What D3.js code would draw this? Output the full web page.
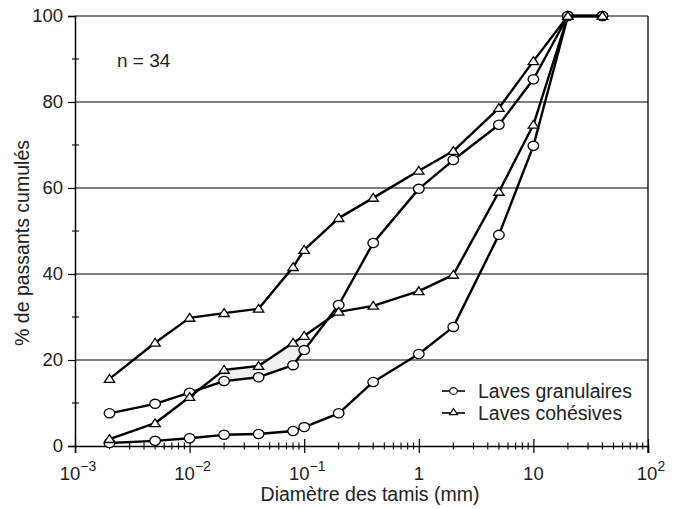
<!DOCTYPE html>
<html>
<head>
<meta charset="utf-8">
<script src="https://cdn.jsdelivr.net/npm/d3@7"></script>
<style>
  body { margin: 0; background: #fff; }
  svg { display: block; }
  text { font-family: "Liberation Sans", Arial, sans-serif; fill: #222; }
</style>
</head>
<body>
<div id="chart"></div>
<script>
// Sieve sizes (mm) and cumulative passing (%)
const sizes = [0.002, 0.005, 0.01, 0.02, 0.04, 0.08, 0.1, 0.2, 0.4, 1, 2, 5, 10, 20, 40];

const granularUpper = [7.6, 9.8, 12.4, 15.1, 16.0, 18.8, 22.3, 32.8, 47.2, 59.8, 66.5, 74.7, 85.3, 100, 100];
const granularLower = [0.7, 1.2, 1.8, 2.6, 2.8, 3.5, 4.4, 7.6, 14.9, 21.4, 27.7, 49.1, 69.8, 100, 100];
const cohesiveUpper = [15.6, 24.0, 29.8, 30.9, 31.9, 41.6, 45.6, 53.0, 57.7, 64.0, 68.6, 78.6, 89.5, 100, 100];
const cohesiveLower = [1.6, 5.3, 11.4, 17.7, 18.6, 24.0, 25.6, 31.2, 32.6, 36.0, 39.8, 59.1, 74.7, 100, 100];

const yTicks = [0, 20, 40, 60, 80, 100];
const yMinorTicks = [10, 30, 50, 70, 90];
const xTicks = [1e-3, 1e-2, 1e-1, 1, 10, 100];
const xTickLabels = [['10', '\u22123'], ['10', '\u22122'], ['10', '\u22121'], ['1', ''], ['10', ''], ['10', '2']];

const legendItems = [
    { label: 'Laves granulaires', shape: 'circle' },
    { label: 'Laves cohésives', shape: 'triangle' }
];

const width = 678, height = 509;
const margin = { top: 16, right: 30, bottom: 63, left: 75 };

const svg = d3.select('#chart').append('svg')
    .attr('width', width)
    .attr('height', height);

const x = d3.scaleLog().domain([1e-3, 1e2]).range([margin.left, width - margin.right]);
const y = d3.scaleLinear().domain([0, 100]).range([height - margin.bottom, margin.top]);

// Horizontal grid lines (including top frame)
svg.append('g')
    .selectAll('line')
    .data(yTicks.filter(d => d > 0))
    .enter().append('line')
    .attr('x1', x.range()[0]).attr('x2', x.range()[1])
    .attr('y1', d => y(d)).attr('y2', d => y(d))
    .attr('stroke', '#000').attr('stroke-width', 1);

// Right frame
svg.append('line')
    .attr('x1', x.range()[1]).attr('x2', x.range()[1])
    .attr('y1', y(100)).attr('y2', y(0) + 7)
    .attr('stroke', '#000').attr('stroke-width', 1.3);

// Y axis
const yAxis = svg.append('g')
    .attr('transform', `translate(${margin.left},0)`)
    .call(d3.axisLeft(y).tickValues(yTicks).tickSize(7).tickPadding(5));
yAxis.select('.domain').attr('stroke-width', 1.5);
yAxis.selectAll('.tick line').attr('stroke-width', 1.2);
yAxis.selectAll('.tick text').style('font-size', '18.5px').attr('fill', '#222');

yAxis.selectAll('.minor')
    .data(yMinorTicks)
    .enter().append('line')
    .attr('x1', -3).attr('x2', 4)
    .attr('y1', d => y(d)).attr('y2', d => y(d))
    .attr('stroke', '#000').attr('stroke-width', 1.1);

// X axis
const xAxis = svg.append('g')
    .attr('transform', `translate(0,${y(0)})`)
    .call(d3.axisBottom(x).tickValues(xTicks).tickSize(7).tickFormat(''));
xAxis.select('.domain').attr('stroke-width', 1.5);
xAxis.selectAll('.tick line').attr('y1', -7).attr('stroke-width', 1.2);
xAxis.selectAll('.tick text').remove();

const minorX = [];
xTicks.slice(0, -1).forEach(t => {
    for (let k = 2; k <= 9; k++) minorX.push(t * k);
});
xAxis.selectAll('.minor')
    .data(minorX)
    .enter().append('line')
    .attr('x1', d => x(d)).attr('x2', d => x(d))
    .attr('y1', -3.5).attr('y2', 3.5)
    .attr('stroke', '#000').attr('stroke-width', 1.1);

const xLab = xAxis.selectAll('.xlab')
    .data(xTicks)
    .enter().append('text')
    .attr('class', 'xlab')
    .attr('x', (d, i) => x(d) + (xTickLabels[i][1] ? 3 : 0))
    .attr('y', 34)
    .attr('text-anchor', 'middle')
    .style('font-size', '18.5px');
xLab.append('tspan').text((d, i) => xTickLabels[i][0]);
xLab.append('tspan')
    .attr('dy', -9)
    .style('font-size', '14px')
    .text((d, i) => xTickLabels[i][1]);

// Axis titles
svg.append('text')
    .attr('x', 370).attr('y', 501)
    .attr('text-anchor', 'middle')
    .style('font-size', '19.5px')
    .text('Diamètre des tamis (mm)');

svg.append('text')
    .attr('transform', 'translate(29,243) rotate(-90)')
    .attr('text-anchor', 'middle')
    .style('font-size', '19.5px')
    .text('% de passants cumulés');

// Faint gray patch between the two close curves
const patchIdx = [3, 4, 5, 6];
svg.append('path')
    .datum(patchIdx)
    .attr('fill', '#f0f0f0')
    .attr('d', d3.area()
        .x(i => x(sizes[i]))
        .y0(i => y(granularUpper[i]))
        .y1(i => y(cohesiveLower[i])));

const line = d3.line()
    .x(d => x(d[0]))
    .y(d => y(d[1]));

const triangle = (s) => `M0,${-s * 0.85}L${s},${s * 0.65}L${-s},${s * 0.65}Z`;

function drawSeries(values, shape) {
    const pts = sizes.map((s, i) => [s, values[i]]);
    const g = svg.append('g');
    g.append('path')
        .datum(pts)
        .attr('fill', 'none')
        .attr('stroke', '#000')
        .attr('stroke-width', 2.4)
        .attr('stroke-linejoin', 'round')
        .attr('d', line);
    if (shape === 'circle') {
        g.selectAll('ellipse')
            .data(pts)
            .enter().append('ellipse')
            .attr('cx', d => x(d[0])).attr('cy', d => y(d[1]))
            .attr('rx', 5.3).attr('ry', 4.6)
            .attr('fill', '#fff').attr('stroke', '#000').attr('stroke-width', 1.3);
    } else {
        g.selectAll('path.mk')
            .data(pts)
            .enter().append('path')
            .attr('class', 'mk')
            .attr('transform', d => `translate(${x(d[0])},${y(d[1])})`)
            .attr('d', triangle(5.2))
            .attr('fill', '#fff').attr('stroke', '#000').attr('stroke-width', 1.3);
    }
}

drawSeries(granularUpper, 'circle');
drawSeries(granularLower, 'circle');
drawSeries(cohesiveUpper, 'triangle');
drawSeries(cohesiveLower, 'triangle');

// Sample count
svg.append('text')
    .attr('x', 117).attr('y', 67)
    .style('font-size', '19px')
    .text('n = 34');

// Legend
const legend = svg.append('g');
legendItems.forEach((item, i) => {
    const ly = 391 + i * 22;
    legend.append('line')
        .attr('x1', 442).attr('x2', 465)
        .attr('y1', ly).attr('y2', ly)
        .attr('stroke', '#000').attr('stroke-width', 1.6);
    if (item.shape === 'circle') {
        legend.append('ellipse')
            .attr('cx', 453.5).attr('cy', ly)
            .attr('rx', 3.8).attr('ry', 3.4)
            .attr('fill', '#fff').attr('stroke', '#000').attr('stroke-width', 1.1);
    } else {
        legend.append('path')
            .attr('transform', `translate(453.5,${ly - 1})`)
            .attr('d', triangle(4))
            .attr('fill', '#fff').attr('stroke', '#000').attr('stroke-width', 1.1);
    }
    legend.append('text')
        .attr('x', 478).attr('y', ly + 6.5)
        .style('font-size', '19.5px')
        .text(item.label);
});
</script>
</body>
</html>
